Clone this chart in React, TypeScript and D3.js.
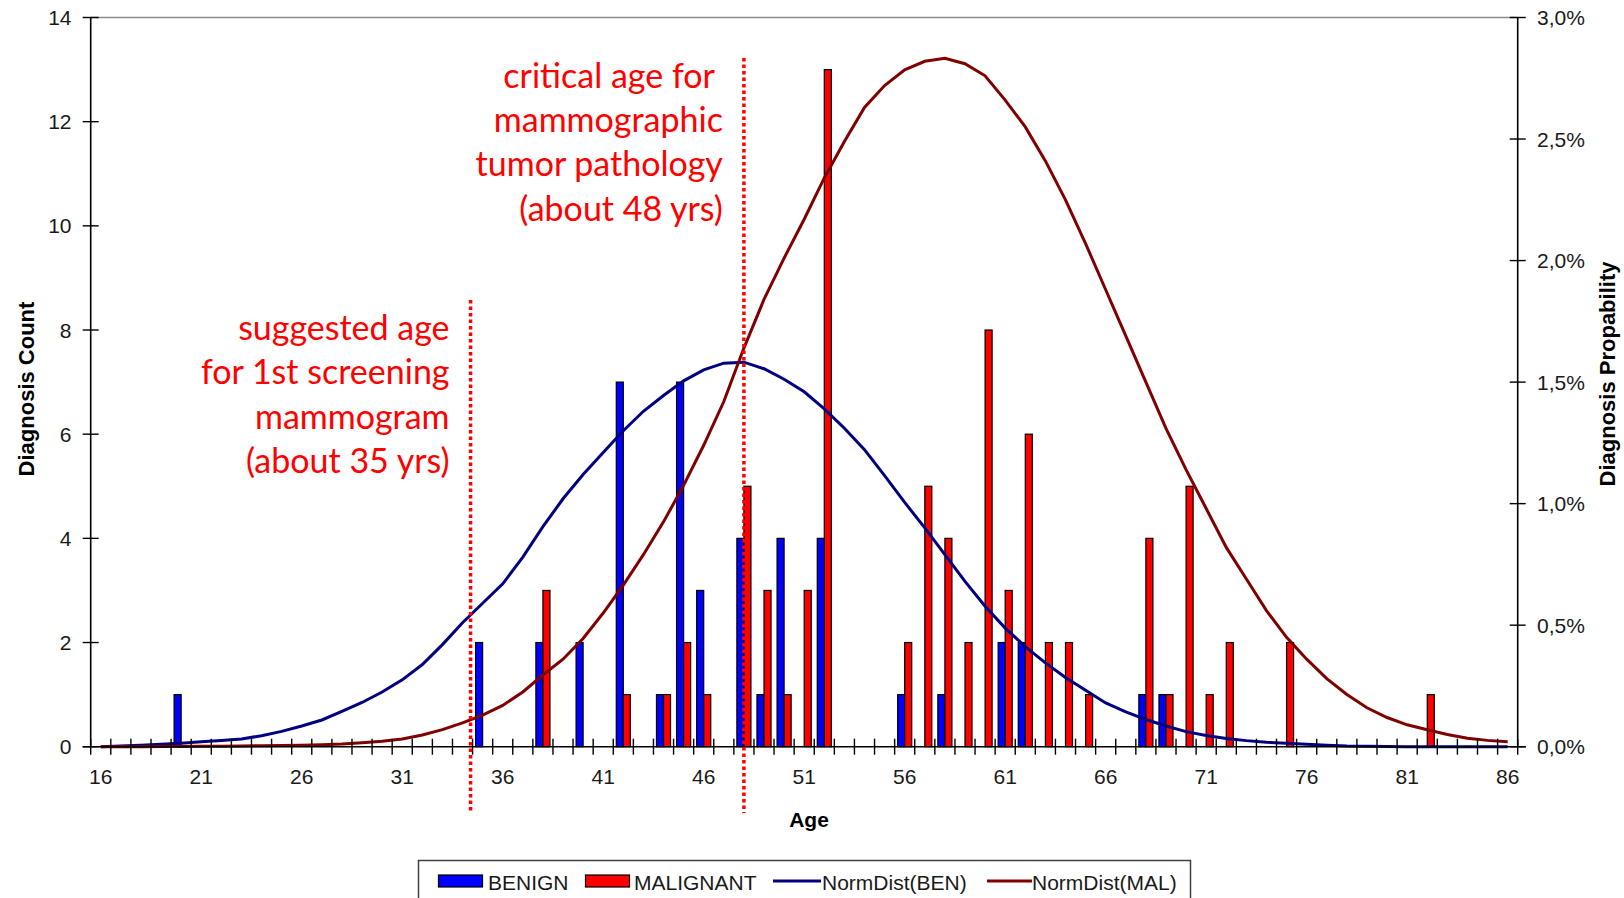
import * as d3 from 'd3';

// age categories on the x axis
const ages = d3.range(16, 87);

// BENIGN diagnosis counts
const benignAges = [20, 35, 38, 40, 42, 44, 45, 46, 48, 49, 50, 52, 56, 58, 61, 62, 68, 69];
const benignCounts = [1, 2, 2, 2, 7, 1, 7, 3, 4, 1, 4, 4, 1, 1, 2, 2, 1, 1];

// MALIGNANT diagnosis counts
const malignantAges = [38, 42, 44, 45, 46, 48, 49, 50, 51, 52, 56, 57, 58, 59, 60, 61, 62, 63, 64, 65, 68, 69, 70, 71, 72, 75, 82];
const malignantCounts = [3, 1, 1, 2, 1, 5, 3, 1, 3, 13, 2, 5, 4, 2, 8, 3, 6, 2, 2, 1, 4, 1, 5, 1, 2, 2, 1];

// NormDist curves, in %, one value per age 16..86
const normBen = [
  0, 0.003, 0.006, 0.01, 0.014, 0.02, 0.026, 0.032, 0.045, 0.063,
  0.085, 0.11, 0.145, 0.182, 0.225, 0.275, 0.338, 0.42, 0.51, 0.59,
  0.67, 0.78, 0.905, 1.02, 1.12, 1.21, 1.3, 1.38, 1.445, 1.505,
  1.55, 1.578, 1.582, 1.555, 1.512, 1.46, 1.39, 1.31, 1.222, 1.115,
  1.005, 0.9, 0.79, 0.68, 0.578, 0.488, 0.412, 0.345, 0.285, 0.232,
  0.18, 0.143, 0.112, 0.085, 0.062, 0.046, 0.034, 0.025, 0.018, 0.014,
  0.01, 0.006, 0.003, 0.002, 0.001, 0, 0, 0, 0, 0,
  0,
];
const normMal = [
  0, 0, 0, 0.001, 0.001, 0.002, 0.002, 0.003, 0.004, 0.005,
  0.006, 0.008, 0.011, 0.016, 0.022, 0.032, 0.048, 0.07, 0.098, 0.13,
  0.17, 0.225, 0.295, 0.36, 0.445, 0.55, 0.665, 0.79, 0.925, 1.075,
  1.24, 1.42, 1.64, 1.84, 2.01, 2.17, 2.34, 2.49, 2.63, 2.72,
  2.785, 2.82, 2.832, 2.81, 2.76, 2.66, 2.55, 2.41, 2.25, 2.07,
  1.88, 1.69, 1.5, 1.31, 1.14, 0.98, 0.82, 0.69, 0.56, 0.45,
  0.36, 0.28, 0.215, 0.16, 0.12, 0.09, 0.07, 0.05, 0.035, 0.026,
  0.02,
];

const countTicks = [0, 2, 4, 6, 8, 10, 12, 14];
const probTicks = [0, 0.005, 0.01, 0.015, 0.02, 0.025, 0.03];
const ageLabels = [16, 21, 26, 31, 36, 41, 46, 51, 56, 61, 66, 71, 76, 81, 86];

// annotations: dotted marker age and the text lines beside it
const screeningAge = 34.4;
const screeningText = ['suggested age', 'for 1st screening', 'mammogram', '(about 35 yrs)'];
const criticalAge = 48;
const criticalText = ['critical age for\u00a0', 'mammographic', 'tumor pathology', '(about 48 yrs)'];

const W = 1624;
const H = 898;
const left = 90.7;
const right = 1517.7;
const top = 17.5;
const bottom = 746.7;

const BLUE = '#0000ff';
const RED = '#ff0000';
const NAVY = '#000080';
const MAROON = '#800000';
const FONT = '"Liberation Sans", Arial, sans-serif';
const ANNO_FONT = 'Lato, "Open Sans", sans-serif';

export default function App() {
  const x = d3.scaleBand<number>().domain(ages).range([left, right]).padding(0);
  const bw = x.bandwidth();
  const cx = (a: number) => (x(a) as number) + bw / 2;
  const xAge = d3.scaleLinear().domain([15.5, 86.5]).range([left, right]);
  const yCount = d3.scaleLinear().domain([0, 14]).range([bottom, top]);
  const yProb = d3.scaleLinear().domain([0, 0.03]).range([bottom, top]);
  const barW = bw * 0.35;

  const line = d3
    .line<number>()
    .x((_, i) => cx(ages[i]))
    .y((d) => yProb(d / 100));

  const fmtPct = (v: number) => d3.format('.1%')(v).replace('.', ',');

  const boundaries = d3.range(ages.length + 1).map((i) => left + i * bw);

  return (
    <svg
      width={W}
      height={H}
      style={{ position: 'absolute', left: 0, top: 0, background: '#fff' }}
    >
      {/* top border */}
      <line x1={left} x2={right} y1={top} y2={top} stroke="#8c8c8c" strokeWidth={1.5} />

      {/* bars */}
      {benignAges.map((a, i) => (
        <rect
          key={'b' + a}
          x={cx(a) - barW}
          y={yCount(benignCounts[i])}
          width={barW}
          height={bottom - yCount(benignCounts[i])}
          fill={BLUE}
          stroke="#000"
          strokeWidth={1.2}
        />
      ))}
      {malignantAges.map((a, i) => (
        <rect
          key={'m' + a}
          x={cx(a)}
          y={yCount(malignantCounts[i])}
          width={barW}
          height={bottom - yCount(malignantCounts[i])}
          fill={RED}
          stroke="#000"
          strokeWidth={1.2}
        />
      ))}

      {/* normal distribution curves */}
      <path d={line(normBen) ?? ''} fill="none" stroke={NAVY} strokeWidth={3} />
      <path d={line(normMal) ?? ''} fill="none" stroke={MAROON} strokeWidth={3} />

      {/* axes */}
      <line x1={left} x2={left} y1={top} y2={bottom} stroke="#000" strokeWidth={1.6} />
      <line x1={right} x2={right} y1={top} y2={bottom} stroke="#000" strokeWidth={1.6} />
      <line x1={left - 8} x2={right + 8} y1={bottom} y2={bottom} stroke="#000" strokeWidth={1.6} />
      {boundaries.map((bx, i) => (
        <line key={'xt' + i} x1={bx} x2={bx} y1={bottom - 8} y2={bottom + 8} stroke="#000" strokeWidth={1.4} />
      ))}
      {countTicks.map((t) => (
        <g key={'yl' + t}>
          <line x1={left - 8} x2={left + 8} y1={yCount(t)} y2={yCount(t)} stroke="#000" strokeWidth={1.4} />
          <text
            x={71.5}
            y={yCount(t)}
            textAnchor="end"
            dominantBaseline="central"
            fontFamily={FONT}
            fontSize={21}
            fill="#1a1a1a"
          >
            {t}
          </text>
        </g>
      ))}
      {probTicks.map((t) => (
        <g key={'yr' + t}>
          <line x1={right - 8} x2={right + 8} y1={yProb(t)} y2={yProb(t)} stroke="#000" strokeWidth={1.4} />
          <text
            x={1537}
            y={yProb(t)}
            dominantBaseline="central"
            fontFamily={FONT}
            fontSize={21}
            fill="#1a1a1a"
          >
            {fmtPct(t)}
          </text>
        </g>
      ))}
      {ageLabels.map((a) => (
        <text
          key={'xl' + a}
          x={cx(a)}
          y={776}
          textAnchor="middle"
          dominantBaseline="central"
          fontFamily={FONT}
          fontSize={21}
          fill="#1a1a1a"
        >
          {a}
        </text>
      ))}

      {/* axis titles */}
      <text
        x={809}
        y={819}
        textAnchor="middle"
        dominantBaseline="central"
        fontFamily={FONT}
        fontSize={21}
        fontWeight="bold"
      >
        Age
      </text>
      <text
        transform="translate(26,389) rotate(-90)"
        textAnchor="middle"
        dominantBaseline="central"
        fontFamily={FONT}
        fontSize={22}
        fontWeight="bold"
      >
        Diagnosis Count
      </text>
      <text
        transform="translate(1607,374) rotate(-90)"
        textAnchor="middle"
        dominantBaseline="central"
        fontFamily={FONT}
        fontSize={22}
        fontWeight="bold"
      >
        Diagnosis Propability
      </text>

      {/* dotted age markers */}
      <line
        x1={xAge(screeningAge)}
        x2={xAge(screeningAge)}
        y1={300}
        y2={813}
        stroke={RED}
        strokeWidth={3.5}
        strokeDasharray="3.5 3"
      />
      <line
        x1={xAge(criticalAge)}
        x2={xAge(criticalAge)}
        y1={58}
        y2={813}
        stroke={RED}
        strokeWidth={3.5}
        strokeDasharray="3.5 3"
      />
      {screeningText.map((t, i) => (
        <text
          key={'s' + i}
          x={xAge(screeningAge) - 21}
          y={340 + i * 44.3}
          textAnchor="end"
          fontFamily={ANNO_FONT}
          fontSize={34}
          fill={RED}
        >
          {t}
        </text>
      ))}
      {criticalText.map((t, i) => (
        <text
          key={'c' + i}
          x={xAge(criticalAge) - 21}
          y={88 + i * 44.2}
          textAnchor="end"
          fontFamily={ANNO_FONT}
          fontSize={34}
          fill={RED}
          style={{ whiteSpace: 'pre' }}
        >
          {t}
        </text>
      ))}

      {/* legend */}
      <rect x={418.5} y={860.5} width={772} height={60} fill="#fff" stroke="#404040" strokeWidth={1.5} />
      <rect x={438.5} y={875} width={44} height={12} fill={BLUE} stroke="#000" strokeWidth={1.2} />
      <text x={488} y={882} dominantBaseline="central" fontFamily={FONT} fontSize={21} fill="#1a1a1a">
        BENIGN
      </text>
      <rect x={585.5} y={875} width={44} height={12} fill={RED} stroke="#000" strokeWidth={1.2} />
      <text x={634} y={882} dominantBaseline="central" fontFamily={FONT} fontSize={21} fill="#1a1a1a">
        MALIGNANT
      </text>
      <line x1={773} x2={821} y1={881} y2={881} stroke={NAVY} strokeWidth={3} />
      <text x={822} y={882} dominantBaseline="central" fontFamily={FONT} fontSize={21} fill="#1a1a1a">
        NormDist(BEN)
      </text>
      <line x1={987} x2={1032} y1={881} y2={881} stroke={MAROON} strokeWidth={3} />
      <text x={1032} y={882} dominantBaseline="central" fontFamily={FONT} fontSize={21} fill="#1a1a1a">
        NormDist(MAL)
      </text>
    </svg>
  );
}
